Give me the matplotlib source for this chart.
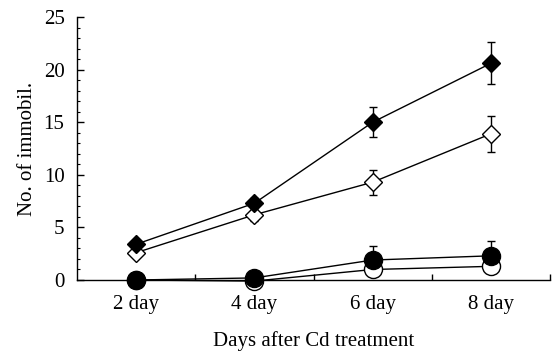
import numpy as np
import matplotlib
matplotlib.use('Agg')
import matplotlib.pyplot as plt
from matplotlib.ticker import MultipleLocator, FixedLocator

plt.rcParams['font.family'] = 'Liberation Serif'

days = ['2 day', '4 day', '6 day', '8 day']

# filled diamonds
fd_mean = [3.4, 7.3, 15.0, 20.6]
fd_err = [0.3, 0.5, 1.4, 2.0]
# open diamonds
od_mean = [2.6, 6.2, 9.3, 13.9]
od_err = [0.3, 0.6, 1.2, 1.7]
# filled circles (upper error only)
fc_mean = [0.0, 0.2, 1.9, 2.3]
fc_err = [0.0, 0.0, 1.3, 1.4]
# open circles
oc_mean = [0.0, -0.1, 1.0, 1.3]

x = np.arange(len(days))

fig = plt.figure(figsize=(5.54, 3.54), dpi=100)
ax = fig.add_axes([0.139, 0.209, 0.854, 0.743])

ax.plot(x, oc_mean, '-o', color='k', mfc='white', mec='k', ms=13, lw=1, mew=1, zorder=2,
        clip_on=False)
ax.errorbar(x, fc_mean, yerr=[np.zeros(4), fc_err], fmt='-o', color='k', mfc='k', ms=13,
            lw=1, capsize=3, elinewidth=1, capthick=1, zorder=3, clip_on=False)
ax.errorbar(x, od_mean, yerr=od_err, fmt='-D', color='k', mfc='white', mec='k', ms=9.5,
            lw=1, capsize=3, elinewidth=1, capthick=1, zorder=4)
ax.errorbar(x, fd_mean, yerr=fd_err, fmt='-D', color='k', mfc='k', ms=9.5,
            lw=1, capsize=3, elinewidth=1, capthick=1, zorder=5)

ax.set_xlim(-0.5, 3.5)
ax.set_ylim(0, 25)
ax.set_xticks(x)
ax.set_xticklabels(days)
ax.xaxis.set_minor_locator(FixedLocator([0.5, 1.5, 2.5, 3.5]))
ax.tick_params(axis='x', which='major', length=0, pad=11, labelsize=15)
ax.tick_params(axis='x', which='minor', direction='in', length=4, width=1)
ax.yaxis.set_major_locator(MultipleLocator(5))
ax.yaxis.set_minor_locator(MultipleLocator(1))
ax.tick_params(axis='y', which='major', direction='in', length=5, width=1, labelsize=15, pad=9)
ax.tick_params(axis='y', which='minor', direction='in', length=2, width=0.8)

for s in ['top', 'right']:
    ax.spines[s].set_visible(False)
ax.spines['left'].set_linewidth(1)
ax.spines['bottom'].set_linewidth(1)

ax.set_xlabel('Days after Cd treatment', fontsize=15, labelpad=12)
ax.set_ylabel('No. of immobil.', fontsize=15, labelpad=5)

fig.savefig('out.png', dpi=100)
